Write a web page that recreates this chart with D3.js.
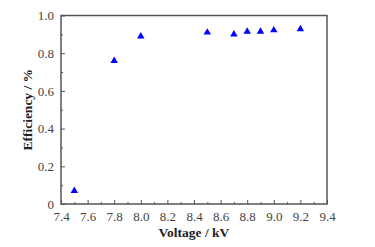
<!DOCTYPE html>
<html>
<head>
<meta charset="utf-8">
<script src="https://cdn.jsdelivr.net/npm/d3@7"></script>
<style>
  body { margin: 0; background: #fff; }
</style>
</head>
<body>
<div id="chart"></div>
<script>
// data
const voltage = [7.5, 7.8, 8.0, 8.5, 8.7, 8.8, 8.9, 9.0, 9.2];
const efficiency = [0.07, 0.76, 0.89, 0.91, 0.90, 0.915, 0.915, 0.922, 0.928];
const xTicks = [7.4, 7.6, 7.8, 8.0, 8.2, 8.4, 8.6, 8.8, 9.0, 9.2, 9.4];
const yTicks = [0, 0.2, 0.4, 0.6, 0.8, 1.0];

const width = 375, height = 247;
const margin = {top: 15.5, right: 48, bottom: 43, left: 61};
const font = "'Liberation Serif', 'Times New Roman', serif";

const svg = d3.select("#chart").append("svg")
    .attr("width", width)
    .attr("height", height)
    .attr("font-family", font);

const x = d3.scaleLinear().domain([7.4, 9.4]).range([margin.left, width - margin.right]);
const y = d3.scaleLinear().domain([0, 1]).range([height - margin.bottom, margin.top]);

const axisColor = "#555";

// minor ticks
const xMinor = d3.range(7.5, 9.4, 0.2);
const yMinor = d3.range(0.1, 1.0, 0.2);

// x axis (ticks point inward)
const xAxis = svg.append("g")
    .attr("transform", `translate(0, ${y(0)})`)
    .call(d3.axisBottom(x).tickValues(xTicks).tickSize(-4).tickPadding(8)
        .tickFormat(d3.format(".1f")))
    .attr("font-family", font);
xAxis.select(".domain").remove();
xAxis.selectAll(".tick line").attr("stroke", axisColor);
xAxis.selectAll("text").attr("font-size", 13).attr("fill", "#444");

const xAxisMinor = svg.append("g")
    .attr("transform", `translate(0, ${y(0)})`)
    .call(d3.axisBottom(x).tickValues(xMinor).tickSize(-2).tickFormat(""));
xAxisMinor.select(".domain").remove();
xAxisMinor.selectAll(".tick line").attr("stroke", axisColor);

// y axis
const yAxis = svg.append("g")
    .attr("transform", `translate(${x(7.4)}, 0)`)
    .call(d3.axisLeft(y).tickValues(yTicks).tickSize(-4).tickPadding(7)
        .tickFormat(d => d === 0 ? "0" : d3.format(".1f")(d)))
    .attr("font-family", font);
yAxis.select(".domain").remove();
yAxis.selectAll(".tick line").attr("stroke", axisColor);
yAxis.selectAll("text").attr("font-size", 13).attr("fill", "#444");

const yAxisMinor = svg.append("g")
    .attr("transform", `translate(${x(7.4)}, 0)`)
    .call(d3.axisLeft(y).tickValues(yMinor).tickSize(-2).tickFormat(""));
yAxisMinor.select(".domain").remove();
yAxisMinor.selectAll(".tick line").attr("stroke", axisColor);

// frame
svg.append("rect")
    .attr("x", x(7.4))
    .attr("y", y(1))
    .attr("width", x(9.4) - x(7.4))
    .attr("height", y(0) - y(1))
    .attr("fill", "none")
    .attr("stroke", axisColor)
    .attr("stroke-width", 1.5);

// points
const tri = d3.symbol().type(d3.symbolTriangle).size(24);
svg.append("g").selectAll("path")
    .data(voltage)
    .join("path")
    .attr("d", tri)
    .attr("transform", (d, i) => `translate(${x(d)}, ${y(efficiency[i])})`)
    .attr("fill", "#0000ff");

// axis titles
svg.append("text")
    .attr("x", (x(7.4) + x(9.4)) / 2)
    .attr("y", 237)
    .attr("text-anchor", "middle")
    .attr("font-size", 13.5)
    .attr("font-weight", "bold")
    .attr("fill", "#222")
    .text("Voltage / kV");

svg.append("text")
    .attr("transform", `translate(32, ${(y(0) + y(1)) / 2})rotate(-90)`)
    .attr("text-anchor", "middle")
    .attr("font-size", 13.5)
    .attr("font-weight", "bold")
    .attr("fill", "#222")
    .text("Efficiency / %");
</script>
</body>
</html>
